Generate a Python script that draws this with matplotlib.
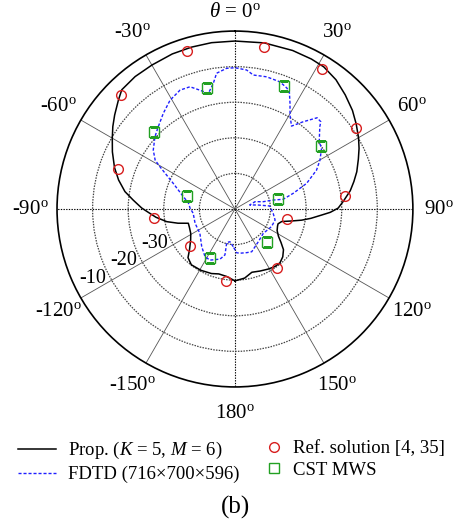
import numpy as np
import matplotlib
matplotlib.use("Agg")
from matplotlib import pyplot as plt

# Fonts: Times-like serif everywhere
plt.rcParams['font.family'] = ['Liberation Serif', 'DejaVu Serif']
plt.rcParams['mathtext.fontset'] = 'custom'
plt.rcParams['mathtext.rm'] = 'Liberation Serif'
plt.rcParams['mathtext.it'] = 'Liberation Serif:italic'

# Prop. (K = 5, M = 6) - solid black curve, angle in degrees, level in dB
prop_ang = [-180, -173, -166, -160, -151, -142, -136, -132, -125, -119, -112, -107,
            -104, -100.5, -96, -93, -89.4, -85, -81, -76, -71, -65, -60, -56, -52,
            -47, -43.5, -37, -30, -22, -15, -8, 0, 10, 20, 27, 32, 38, 44, 50, 55,
            60, 64, 68, 73, 77, 81, 86, 89.5, 92, 94, 97, 99.5, 102, 105, 109, 112,
            117, 122, 126, 130, 135, 140, 145, 151, 158, 165, 172, 180]
prop_db = [-29.8, -30.9, -31.2, -30.7, -30.3, -30.1, -31.0, -32.8, -34.8, -35.8, -36.2, -36.3,
           -33.5, -30.5, -27.7, -26.1, -23.8, -21.3, -18.7, -16.3, -14.2, -12.0, -10.2, -8.6, -7.1,
           -5.2, -3.8, -3.4, -3.3, -3.0, -2.9, -2.8, -2.8, -2.6, -2.6, -2.7, -2.9, -3.9, -5.4, -6.9, -8.4,
           -9.9, -11.2, -12.6, -14.2, -15.7, -17.2, -19.5, -21.0, -23.2, -25.6, -28.5, -31.0, -33.8, -36.4, -37.2, -37.1,
           -36.7, -35.6, -34.0, -32.2, -31.0, -30.3, -30.3, -30.7, -31.2, -31.6, -30.4, -29.8]

# FDTD (716x700x596) - blue dashed curve, points in drawing order
fdtd_ang = [-177.4, -171.3, -166.2, -167.7, -163.4, -153.9, -147.8, -138.5, -124.8,
            -109.7, -95.9, -89.0, -82.5, -76.6, -67.4, -60.6, -58.5, -54.2, -47.9,
            -43.0, -36.8, -30.8, -24.8, -20.2, -16.4, -13.0, -9.8, -7.7, -3.4, 0,
            4.8, 7.8, 13.5, 19.5, 23.2, 25.0, 27.5, 30.5, 34.3, 38.0, 42.0, 44.5,
            45.9, 51.4, 55.0, 60.0, 64.5, 70.3, 74.9, 78.6, 76.8, 75.5, 70.0, 74.8,
            80.0, 85.0, 96.4, 105.4, 115.7, 130.7, 144.5, 158.6, 165.0, 173.6, 177.8]
fdtd_db = [-39.4, -40.7, -40.3, -36.8, -35.3, -34.0, -34.2, -35.9, -38.0,
           -38.1, -38.2, -37.4, -36.8, -35.1, -31.2, -25.8, -23.7, -21.7, -19.7,
           -18.4, -16.4, -14.4, -13.2, -13.4, -15.2, -16.7, -14.2, -11.5, -10.4, -10.3,
           -10.8, -12.0, -11.8, -12.1, -13.0, -13.8, -16.5, -19.5, -21.8, -18.9, -15.5, -15.6,
           -16.8, -19.7, -20.3, -22.4, -24.6, -28.6, -33.0, -36.2, -39.0, -41.8, -44.0, -45.7,
           -43.5, -40.2, -39.2, -38.3, -38.6, -39.5, -38.7, -37.1, -37.3, -37.5, -37.7]

# Ref. solution [4, 35] - red circles
ref_ang = [-173, -129, -96, -71, -45, -17, 10, 32, 56, 83, 101, 145]
ref_db = [-29.7, -33.6, -27.1, -15.1, -4.6, -3.5, -3.7, -3.7, -9.1, -18.9, -35.2, -29.6]

# CST MWS - green squares
cst_ang = [-153, -75, -46.5, -13, 21.5, 53.5, 77, 135.5]
cst_db = [-34.6, -36.0, -18.7, -15.0, -12.7, -20.0, -37.5, -37.0]

# axis settings
r_min, r_max = -50, 0
ring_levels = [-40, -30, -20, -10]
ring_labels = ['', '-30', '-20', '-10']
theta_ticks = [0, 30, 60, 90, 120, 150, 180, -150, -120, -90, -60, -30]

fig = plt.figure(figsize=(4.58, 5.30), dpi=100)
ax = fig.add_axes([0.1245, 0.2698, 0.777, 0.6717], projection='polar')
ax.set_theta_zero_location('N')
ax.set_theta_direction(-1)
ax.set_rlim(r_min, r_max)

# close the curve of FDTD across +-180
fa = np.deg2rad(np.append(fdtd_ang, fdtd_ang[0] + 360))
fd = np.append(fdtd_db, fdtd_db[0])

l1, = ax.plot(np.deg2rad(prop_ang), prop_db, color='black', lw=1.1)
l2, = ax.plot(fa, fd, color='#1f1fff', lw=1.0, dashes=(2.2, 1.4))
l3, = ax.plot(np.deg2rad(ref_ang), ref_db, 'o', ms=7, mfc='none', mec='#d81e1e', mew=1.0)
l4, = ax.plot(np.deg2rad(cst_ang), cst_db, 's', ms=6.5, mfc='none', mec='#22a022', mew=1.0)

# grid
ax.set_thetagrids([0, 30, 60, 90, 120, 150, 180, 210, 240, 270, 300, 330])
ax.set_xticklabels([])
ax.set_rgrids(ring_levels)
ax.set_yticklabels([])
for i, gl in enumerate(ax.xaxis.get_gridlines()):
    if i % 3 == 0:
        gl.set_color('black')
        gl.set_linestyle((0, (1.2, 1.2)))
        gl.set_linewidth(0.8)
    else:
        gl.set_color('#555555')
        gl.set_linestyle('-')
        gl.set_linewidth(0.6)
for gl in ax.yaxis.get_gridlines():
    gl.set_color('#444444')
    gl.set_linestyle((0, (1.2, 1.0)))
    gl.set_linewidth(0.9)
ax.spines['polar'].set_linewidth(1.2)

# angle labels
for a in theta_ticks:
    if a == 0:
        s = r'$\theta$ = 0$^{\mathrm{o}}$'
        rr = 5.2
    else:
        s = str(a) + r'$^{\mathrm{o}}$'
        rr = 7.4
    ax.text(np.deg2rad(a), rr, s, ha='center', va='center', fontsize=15, clip_on=False)

# radial level labels along -120 deg
for lv, lab in zip(ring_levels, ring_labels):
    if lab:
        ax.annotate(lab, xy=(np.deg2rad(-120), lv), xytext=(-4, 1), textcoords='offset points',
                    ha='right', va='center', fontsize=14.5)

# legend in two blocks (lines left, markers right)
fig.legend([l1, l2], ['Prop. ($K$ = 5, $M$ = 6)', 'FDTD (716×700×596)'],
           loc='upper left', bbox_to_anchor=(18.0 / 458, 1 - 440.0 / 530),
           frameon=False, fontsize=13.5, handlelength=2.0, handletextpad=0.65,
           labelspacing=0.25, borderpad=0, borderaxespad=0)
fig.legend([l3, l4], ['Ref. solution [4, 35]', 'CST MWS'],
           loc='upper left', bbox_to_anchor=(265.0 / 458, 1 - 440.0 / 530),
           frameon=False, fontsize=13.5, handlelength=1.0, handletextpad=0.5,
           labelspacing=0.25, borderpad=0, borderaxespad=0)

fig.text(0.515, 1 - 507.0 / 530, '(b)', ha='center', va='center', fontsize=18)

plt.savefig('out.png', dpi=100)
